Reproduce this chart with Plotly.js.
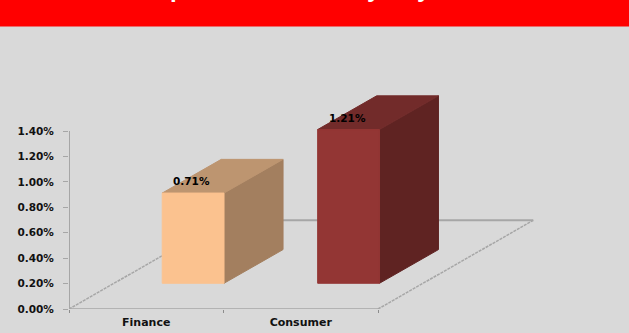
<!DOCTYPE html>
<html>
<head>
<meta charset="utf-8">
<script src="https://cdn.plot.ly/plotly-3.0.1.min.js"></script>
<style>html,body{margin:0;padding:0;background:#d9d9d9;overflow:hidden}</style>
</head>
<body>
<div id="chart" style="width:629px;height:333px"></div>
<script>
// Exposure share per sector, as fractions
const categories = ['Finance', 'Consumer'];
const values = [0.0071, 0.0121];
const valueLabels = ['0.71%', '1.21%'];
const yTicks = [0, 0.002, 0.004, 0.006, 0.008, 0.01, 0.012, 0.014];
const frontColors = ['#fbc28f', '#933634'];
const sideColors = ['#a37f5f', '#5f2322'];
const topColors = ['#bd9570', '#722b2a'];

// Oblique projection: full floor depth in axis units
const depthX = 1.005;
const depthY = 0.00698;
const barWidth = 0.4;
const barStart = [0.312, 1.318];
const depthFront = 0.29;
const depthBack = 0.67;
const axisTop = 0.014;

const project = (x, v, d) => [x + d * depthX, v + d * depthY];

function face(points, color) {
  const p = points.map(q => project(q[0], q[1], q[2]));
  return {
    x: p.map(q => q[0]).concat(p[0][0]),
    y: p.map(q => q[1]).concat(p[0][1]),
    mode: 'lines', fill: 'toself', fillcolor: color,
    line: {color: color, width: 1},
    hoverinfo: 'skip', cliponaxis: false, showlegend: false
  };
}

function floorLine(a, b, width, dash) {
  const p = project(a[0], 0, a[1]), q = project(b[0], 0, b[1]);
  return {
    x: [p[0], q[0]], y: [p[1], q[1]], mode: 'lines',
    line: {color: '#a6a6a6', width: width, dash: dash},
    hoverinfo: 'skip', cliponaxis: false, showlegend: false
  };
}

const n = categories.length;
const traces = [
  // Value axis line stops at the top tick, below the tallest bar's cap
  {x: [0, 0], y: [0, axisTop], mode: 'lines', line: {color: '#a6a6a6', width: 2},
   hoverinfo: 'skip', cliponaxis: false, showlegend: false},
  floorLine([0, 0], [n, 0], 1.5),
  floorLine([0, 1], [n, 1], 2),
  floorLine([0, 0], [0, 1], 1.5, '3px,1px'),
  floorLine([n, 0], [n, 1], 1.5, '3px,1px')
];

categories.forEach((c, i) => {
  const x0 = barStart[i], x1 = x0 + barWidth, v = values[i];
  const f = depthFront, b = depthBack;
  traces.push(face([[x1, 0, f], [x1, 0, b], [x1, v, b], [x1, v, f]], sideColors[i]));
  traces.push(face([[x0, v, f], [x1, v, f], [x1, v, b], [x0, v, b]], topColors[i]));
  traces.push(face([[x0, 0, f], [x1, 0, f], [x1, v, f], [x0, v, f]], frontColors[i]));
});

// Value labels float above each bar's front face, over the cap
const valueAnnotations = categories.map((c, i) => {
  const p = project(barStart[i] + barWidth / 2 - 0.01, values[i], depthFront);
  return {
    text: valueLabels[i], x: p[0], y: p[1], xref: 'x', yref: 'y',
    showarrow: false, yanchor: 'bottom', yshift: 4,
    font: {family: 'DejaVu Sans', size: 10.5, weight: 'bold', color: '#000000'}
  };
});

// Tails of the banner heading's letters, the rest runs off the page
const bannerLetters = ['p', 'y', 'y'];
const bannerLetterX = [177, 374, 424];

const plotLeft = 69, plotWidth = 491, plotBottom = 309.5, plotHeight = 216.75;
const paperY = py => (plotBottom - py) / plotHeight;

const bannerAnnotations = bannerLetters.map((t, i) => ({
  text: t, xref: 'paper', yref: 'paper', showarrow: false,
  x: (bannerLetterX[i] - plotLeft) / plotWidth, y: paperY(3), yanchor: 'bottom', xanchor: 'center',
  font: {family: 'Liberation Sans', size: 24, weight: 'bold', color: '#ffffff'}
}));

const layout = {
  width: 629, height: 333,
  margin: {l: plotLeft, r: 629 - plotLeft - plotWidth, t: plotBottom - plotHeight, b: 333 - plotBottom},
  paper_bgcolor: '#d9d9d9', plot_bgcolor: '#d9d9d9',
  showlegend: false,
  font: {family: 'DejaVu Sans', size: 10.5, color: '#111111'},
  xaxis: {
    range: [0, 3.178], showgrid: false, zeroline: false, showline: false,
    tickmode: 'array', tickvals: categories.map((c, i) => i + 0.5), ticktext: categories,
    ticks: '', ticklabelstandoff: 5,
    tickfont: {family: 'DejaVu Sans', size: 11, weight: 'bold', color: '#111111'},
    minor: {tickmode: 'array', tickvals: [0, 1, 2], ticks: 'outside', ticklen: 3, tickcolor: '#8c8c8c', tickwidth: 1, showgrid: false}
  },
  yaxis: {
    range: [0, 0.017], showgrid: false, zeroline: false, showline: false,
    tickmode: 'array', tickvals: yTicks, tickformat: '.2%',
    ticks: 'outside', ticklen: 5, tickcolor: '#a6a6a6', tickwidth: 1, ticklabelstandoff: 7,
    tickfont: {family: 'DejaVu Sans', size: 10.5, weight: 'bold', color: '#111111'}
  },
  shapes: [{type: 'rect', xref: 'paper', yref: 'paper', x0: -1, x1: 2, y0: paperY(26), y1: paperY(-20), fillcolor: '#ff0000', line: {width: 0}, layer: 'below'}],
  annotations: valueAnnotations.concat(bannerAnnotations)
};

Plotly.newPlot('chart', traces, layout, {displayModeBar: false, staticPlot: true});
</script>
</body>
</html>
